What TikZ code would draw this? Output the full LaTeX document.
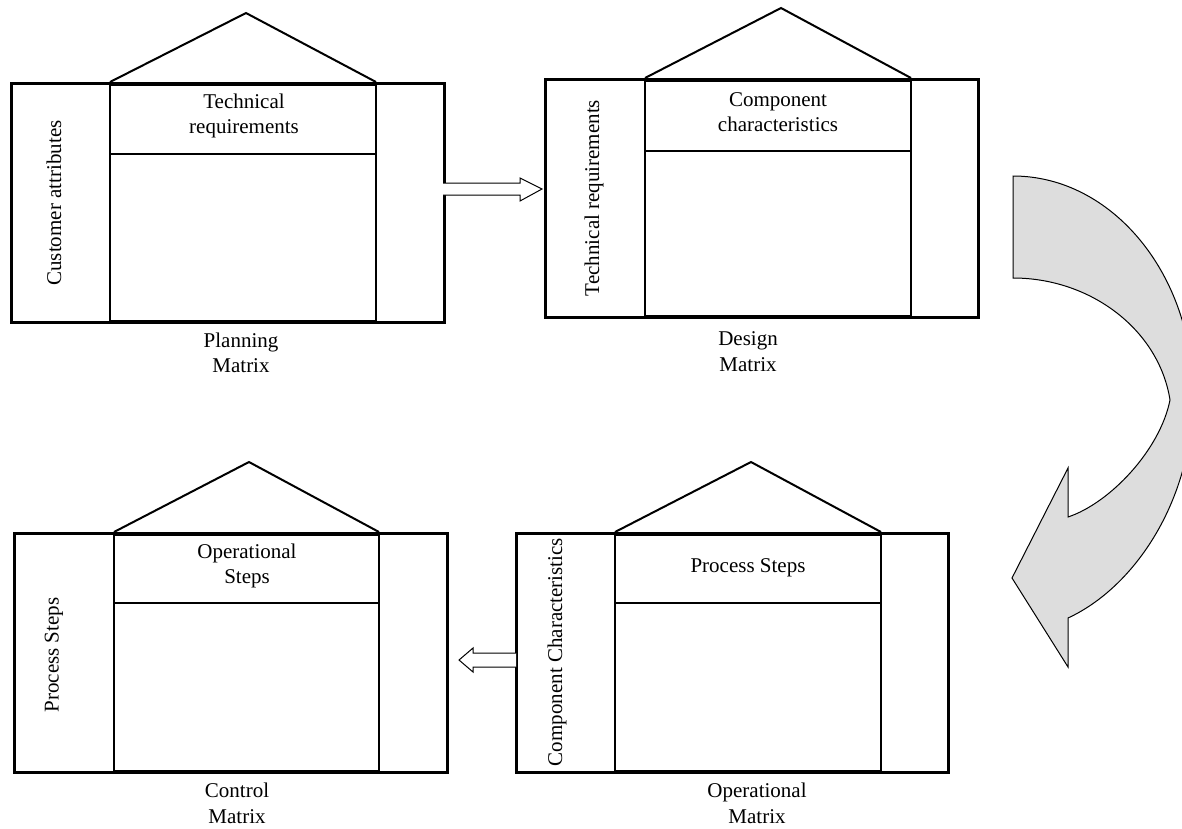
\documentclass[tikz,border=0pt]{standalone}
\usepackage{fontspec}
\setmainfont{Liberation Serif}
\definecolor{arrowgray}{RGB}{221,221,221}
\begin{document}
\begin{tikzpicture}[x=1pt,y=-1pt,
  outerbox/.style={draw, line width=3pt, rectangle, inner sep=0pt, outer sep=0pt, anchor=north west},
  innercol/.style={draw, line width=2.4pt, rectangle, inner sep=0pt, outer sep=0pt, anchor=north west},
  divider/.style={line width=2pt},
  roof/.style={line width=2pt, line join=miter},
  txt/.style={font=\fontsize{21}{25.5}\selectfont, align=center, inner sep=0pt},
  blockarrow/.style={draw=black, line width=1pt, fill=white, line join=miter},
  curvedarrow/.style={draw=black, line width=1pt, fill=arrowgray, line join=miter}]
\useasboundingbox (0,0) rectangle (1182,828);

% ---------- House 1: Planning Matrix ----------
\node[outerbox, minimum width=433pt, minimum height=239pt] (h1) at (11,83) {};
\node[innercol, minimum width=266pt, minimum height=237pt] (h1c) at (110,84.5) {};
\draw[divider] (110,154) -- (376,154);
\draw[roof] (110,82) -- (246,13) -- (376,82);
\node[txt] (h1top) at (244,116) {Technical\\requirements};
\node[txt, rotate=90] (h1side) at (54,203) {Customer attributes};
\node[txt] (h1lab) at (241,353) {Planning\\Matrix};

% ---------- House 2: Design Matrix ----------
\node[outerbox, minimum width=433pt, minimum height=238pt] (h2) at (545,79) {};
\node[innercol, minimum width=266pt, minimum height=236pt] (h2c) at (645,80.5) {};
\draw[divider] (645,151) -- (911,151);
\draw[roof] (645,78) -- (781,8) -- (911,78);
\node[txt] (h2top) at (778,112) {Component\\characteristics};
\node[txt, rotate=90] (h2side) at (594,198) {Technical requirements};
\node[txt] (h2lab) at (748,351.5) {Design\\Matrix};

% ---------- House 3: Control Matrix ----------
\node[outerbox, minimum width=433pt, minimum height=239pt] (h3) at (14,533) {};
\node[innercol, minimum width=265pt, minimum height=237pt] (h3c) at (114,534.5) {};
\draw[divider] (114,603) -- (379,603);
\draw[roof] (114,532) -- (249,462) -- (379,532);
\node[txt] (h3top) at (247,566) {Operational\\Steps};
\node[txt, rotate=90] (h3side) at (54,655) {Process Steps};
\node[txt] (h3lab) at (237,803.5) {Control\\Matrix};

% ---------- House 4: Operational Matrix ----------
\node[outerbox, minimum width=432pt, minimum height=239pt] (h4) at (516,533) {};
\node[innercol, minimum width=266pt, minimum height=237pt] (h4c) at (615,534.5) {};
\draw[divider] (615,603) -- (881,603);
\draw[roof] (615,532) -- (751,462) -- (881,532);
\node[txt] (h4top) at (748,568) {Process Steps};
\node[txt, rotate=90] (h4side) at (557,652) {Component Characteristics};
\node[txt] (h4lab) at (757,803.5) {Operational\\Matrix};

% ---------- Block arrows ----------
\coordinate (a1tail) at (443,189);
\coordinate (a1tip) at (542,189);
\filldraw[blockarrow] (443,183) -- (520,183) -- (520,178) -- (a1tip) -- (520,201) -- (520,195) -- (443,195);

\coordinate (a2tail) at (516,660);
\coordinate (a2tip) at (459,660);
\filldraw[blockarrow] (516,653) -- (473,653) -- (473,648) -- (a2tip) -- (473,672) -- (473,667) -- (516,667);

% ---------- Curved arrow ----------
\filldraw[curvedarrow] (1013,176) .. controls (1112,176) and (1193,274) .. (1193,395)
  .. controls (1193,500) and (1135,587) .. (1068,618)
  -- (1068,667) -- (1012,578) -- (1068,468) -- (1068,517)
  .. controls (1110,503) and (1160,450) .. (1170,400)
  .. controls (1159,330) and (1091,278) .. (1013,278) -- cycle;
\end{tikzpicture}
\end{document}
